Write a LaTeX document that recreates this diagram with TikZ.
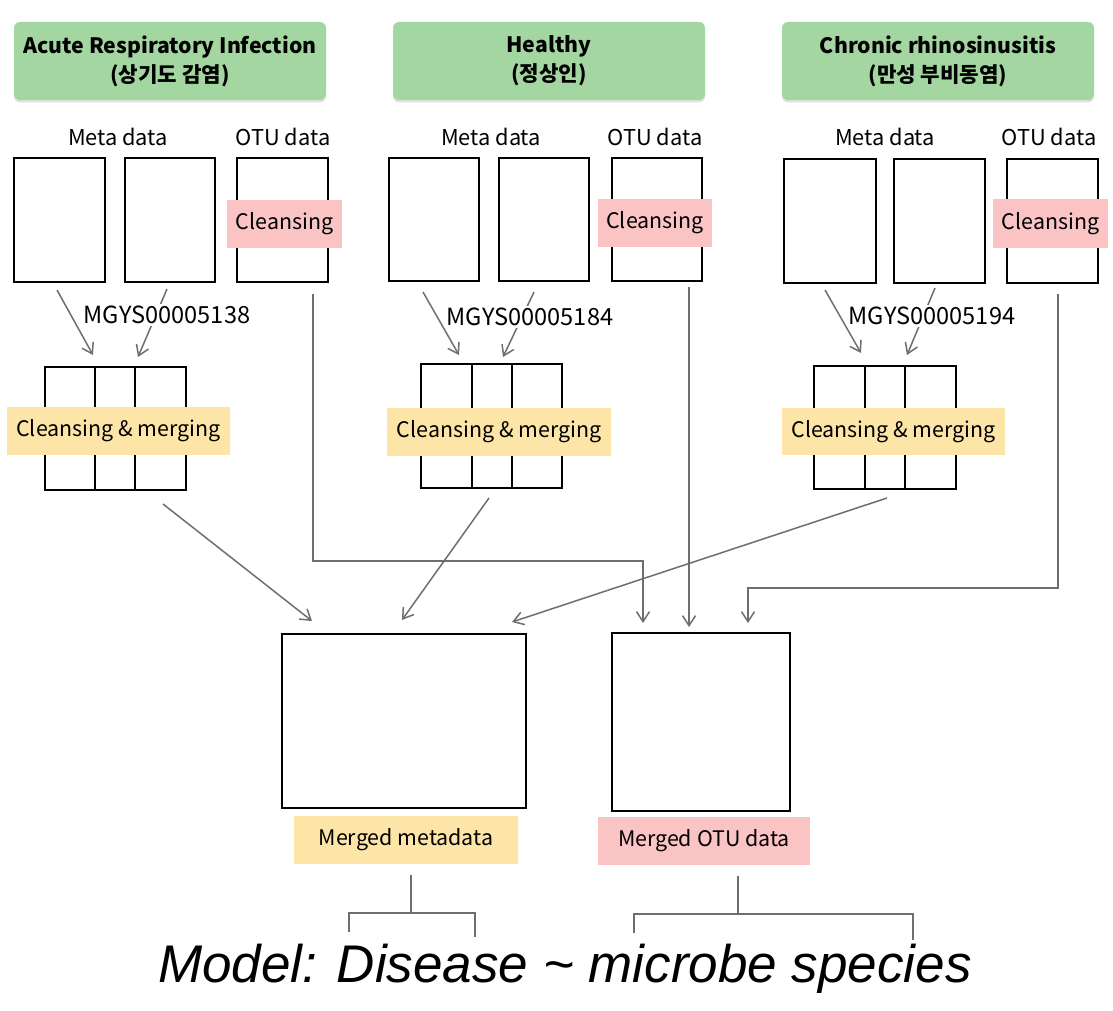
\documentclass[tikz,border=0pt]{standalone}
\usepackage{fontspec}
\setmainfont{Noto Sans CJK KR}
\newfontfamily\modelfont{Liberation Sans}
\usetikzlibrary{arrows.meta,shadows}
\definecolor{hdrgreen}{HTML}{A3D6A0}
\definecolor{lblyellow}{HTML}{FDE5A7}
\definecolor{lblpink}{HTML}{FAC3C4}
\definecolor{conngray}{HTML}{6E6E6E}
\newcommand\mkbox[7][]{\node[#1, minimum width={(#5-#3)*0.5pt}, minimum height={(#6-#4)*0.5pt}] (#2) at ({(#3+#5)/2},{(#4+#6)/2}) {#7};}
\tikzset{
  rect/.style={draw=black, line width=0.9pt, inner sep=0pt, fill=white},
  header/.style={draw=none, fill=hdrgreen, rounded corners=3pt, inner sep=0pt, align=center,
     font=\bfseries\fontsize{10.6}{14.5}\selectfont,
     drop shadow={shadow xshift=0pt, shadow yshift=-1.2pt, opacity=0.25}},
  ylabel/.style={draw=none, fill=lblyellow, inner sep=0pt, font=\fontsize{10.7}{12}\selectfont},
  plabel/.style={draw=none, fill=lblpink, inner sep=0pt, font=\fontsize{10.7}{12}\selectfont},
  coltitle/.style={inner sep=0pt, font=\fontsize{10.9}{12}\selectfont},
  idlabel/.style={fill=white, inner sep=1pt, font=\fontsize{11.8}{12}\selectfont},
  conn/.style={draw=conngray, line width=0.75pt},
  arr/.style={conn, -{Straight Barb[length=5pt,width=6.5pt]}},
  bracket/.style={draw=conngray, line width=0.75pt}
}
\begin{document}
\begin{tikzpicture}[x=0.5pt,y=-0.5pt]
\useasboundingbox (0,0) rectangle (1113,1011);
% headers
\mkbox[header]{h1}{14}{22}{326}{100}{Acute Respiratory Infection\\(상기도 감염)}
\mkbox[header]{h2}{393}{22}{705}{100}{Healthy\\(정상인)}
\mkbox[header]{h3}{782}{22}{1094}{100}{Chronic rhinosinusitis\\(만성 부비동염)}
% column titles
\node[coltitle] (m1t) at (118,137) {Meta data};
\node[coltitle] (o1t) at (283,137) {OTU data};
\node[coltitle] (m2t) at (491,137) {Meta data};
\node[coltitle] (o2t) at (655,137) {OTU data};
\node[coltitle] (m3t) at (885,137) {Meta data};
\node[coltitle] (o3t) at (1049,137) {OTU data};
% data boxes
\mkbox[rect]{a1}{14}{158}{105}{282}{}
\mkbox[rect]{b1}{125}{158}{215}{282}{}
\mkbox[rect]{c1}{237}{158}{328}{282}{}
\mkbox[plabel]{cl1}{227}{200}{342}{248}{Cleansing}
\mkbox[rect]{a2}{389}{158}{479}{281}{}
\mkbox[rect]{b2}{499}{158}{589}{281}{}
\mkbox[rect]{c2}{612}{158}{702}{281}{}
\mkbox[plabel]{cl2}{598}{199}{712}{247}{Cleansing}
\mkbox[rect]{a3}{784}{159}{876}{283}{}
\mkbox[rect]{b3}{894}{159}{985}{283}{}
\mkbox[rect]{c3}{1007}{159}{1098}{283}{}
\mkbox[plabel]{cl3}{993}{199}{1108}{248}{Cleansing}
% merged per-study tables
\mkbox[rect]{t1}{45}{367}{186}{490}{}
\mkbox[rect]{t1m}{95}{367}{135}{490}{}
\mkbox[ylabel]{cm1}{7}{407}{230}{455}{Cleansing \& merging}
\mkbox[rect]{t2}{421}{364}{562}{488}{}
\mkbox[rect]{t2m}{472}{364}{512}{488}{}
\mkbox[ylabel]{cm2}{387}{408}{611}{456}{Cleansing \& merging}
\mkbox[rect]{t3}{814}{366}{956}{489}{}
\mkbox[rect]{t3m}{865}{366}{905}{489}{}
\mkbox[ylabel]{cm3}{782}{408}{1005}{455}{Cleansing \& merging}
% arrows into merged tables
\coordinate (s11) at (57,290);  \coordinate (e11) at (93,355);
\coordinate (s12) at (167,289); \coordinate (e12) at (138,357);
\coordinate (s21) at (423,292); \coordinate (e21) at (459,355);
\coordinate (s22) at (534,292); \coordinate (e22) at (503,357);
\coordinate (s31) at (825,290); \coordinate (e31) at (861,353);
\coordinate (s32) at (935,288); \coordinate (e32) at (907,355);
\draw[arr] (s11) -- (e11);
\draw[arr] (s12) -- (e12);
\draw[arr] (s21) -- (e21);
\draw[arr] (s22) -- (e22);
\draw[arr] (s31) -- (e31);
\draw[arr] (s32) -- (e32);
\node[idlabel] (id1) at (167,315) {MGYS00005138};
\node[idlabel] (id2) at (530,317) {MGYS00005184};
\node[idlabel] (id3) at (932,316) {MGYS00005194};
% final merged boxes
\mkbox[rect]{mm}{282}{634}{526}{808}{}
\mkbox[rect]{mo}{612}{633}{790}{811}{}
\mkbox[ylabel]{mml}{294}{816}{518}{864}{Merged metadata}
\mkbox[plabel]{mol}{598}{817}{810}{865}{Merged OTU data}
% arrows from study tables to merged metadata
\coordinate (f1s) at (163,504); \coordinate (f1e) at (312,621);
\coordinate (f2s) at (489,498); \coordinate (f2e) at (402,620);
\coordinate (f3s) at (887,498); \coordinate (f3e) at (512,622);
\draw[arr] (f1s) -- (f1e);
\draw[arr] (f2s) -- (f2e);
\draw[arr] (f3s) -- (f3e);
% OTU routes
\coordinate (o1s) at (313,294); \coordinate (o1e) at (643,623);
\coordinate (o2s) at (689,287); \coordinate (o2e) at (689,627);
\coordinate (o3s) at (1058,294); \coordinate (o3e) at (748,623);
\draw[arr] (o1s) |- (643,561) -- (o1e);
\draw[arr] (o2s) -- (o2e);
\draw[arr] (o3s) |- (748,588) -- (o3e);
% brackets
\coordinate (bl0) at (411,875); \coordinate (blj) at (411,913);
\coordinate (bll) at (349,932); \coordinate (blr) at (475,937);
\draw[bracket] (bl0) -- (blj);
\draw[bracket] (bll) |- (blj) -| (blr);
\coordinate (br0) at (738,876); \coordinate (brj) at (738,914);
\coordinate (brl) at (634,933); \coordinate (brr) at (913,940);
\draw[bracket] (br0) -- (brj);
\draw[bracket] (brl) |- (brj) -| (brr);
% model
\node[anchor=base, inner sep=0pt, font=\modelfont\itshape\fontsize{26.5}{30}\selectfont] (model) at (565,982) {Model: Disease \textasciitilde{} microbe species};
\end{tikzpicture}
\end{document}
